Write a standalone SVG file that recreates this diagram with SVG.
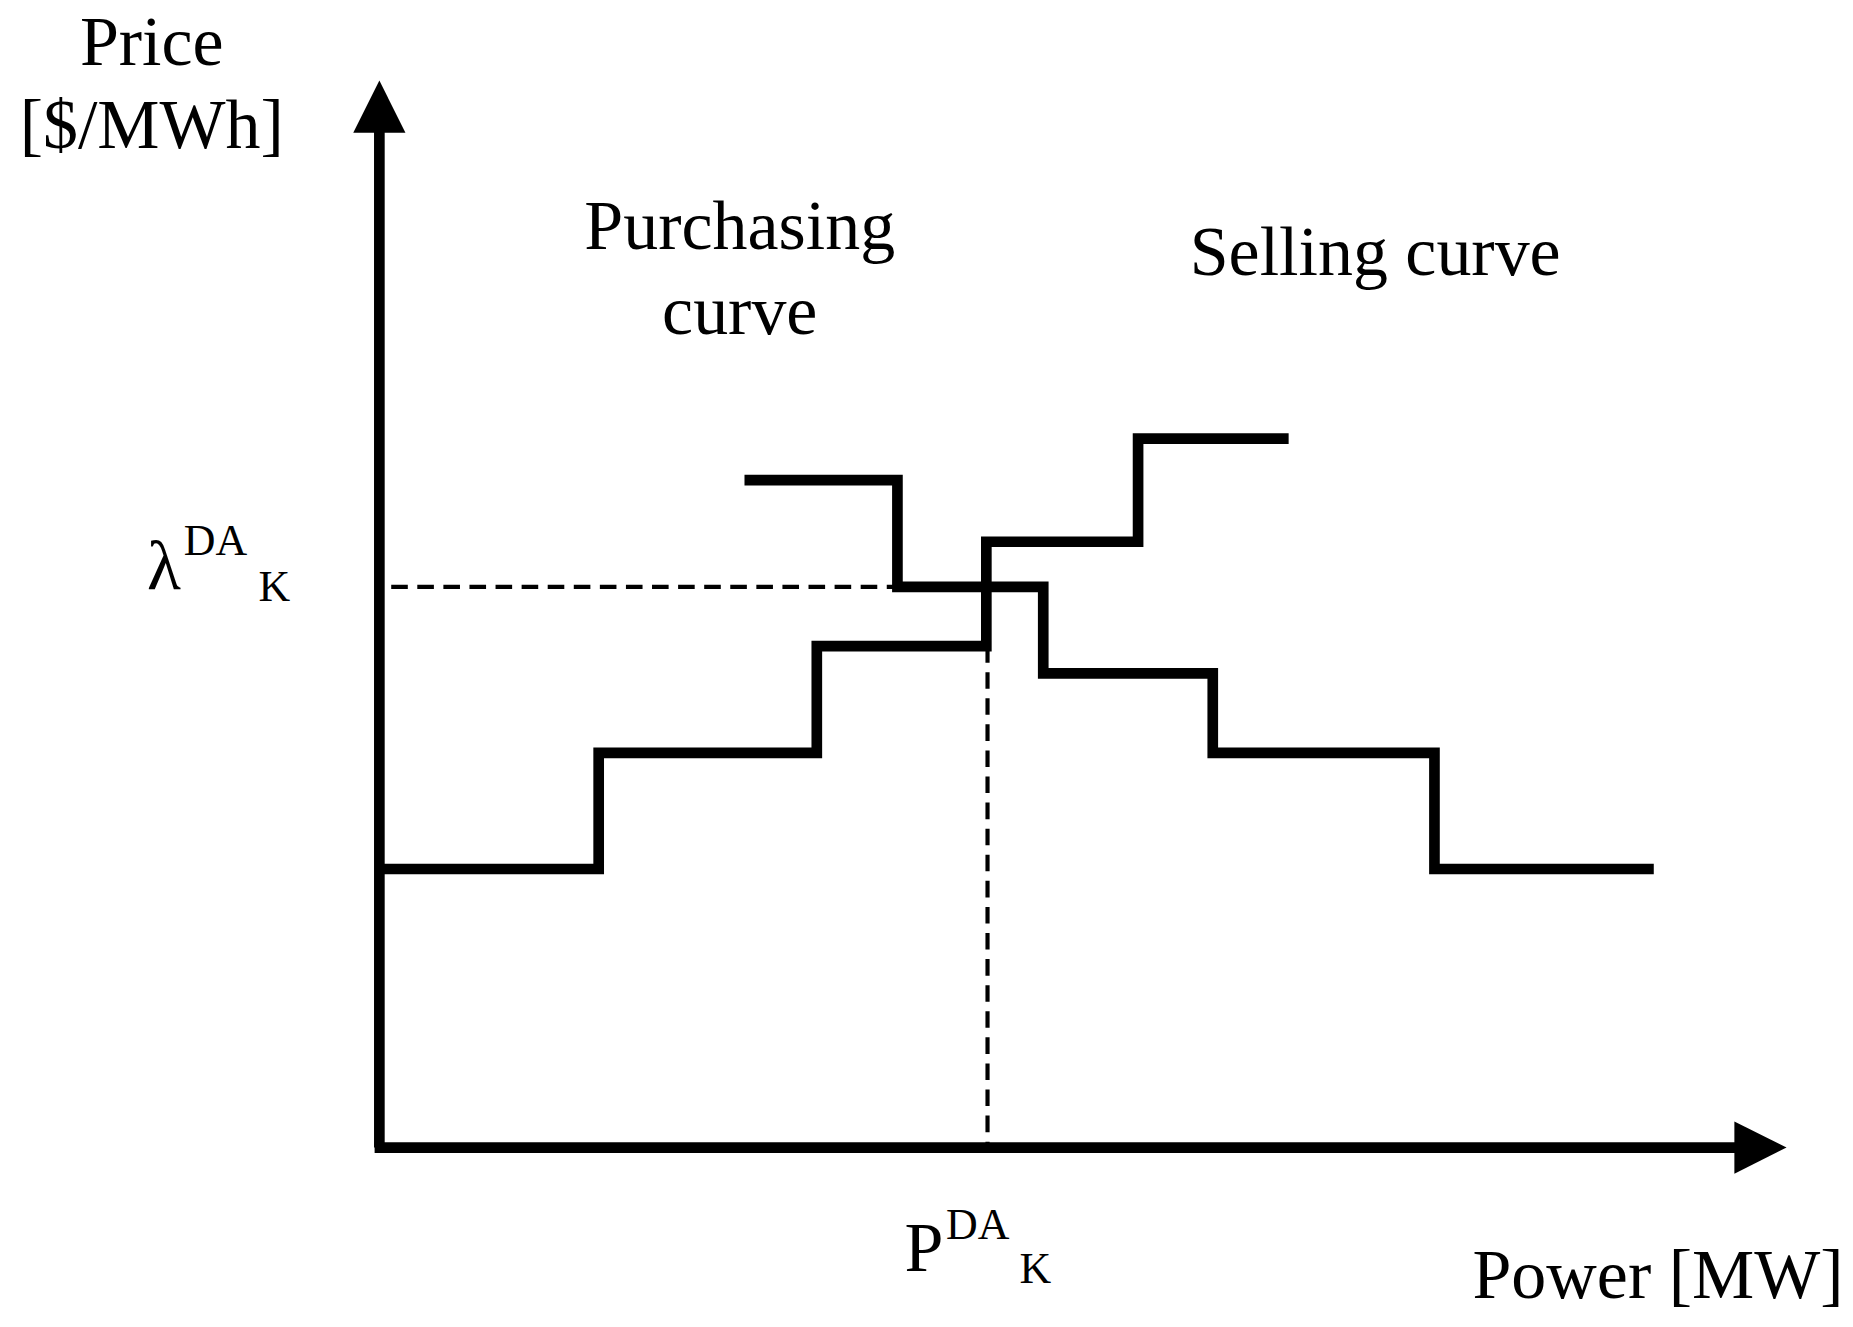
<svg xmlns="http://www.w3.org/2000/svg" width="1853" height="1327" viewBox="0 0 1853 1327">
<style>
.t{font-family:"Liberation Serif",serif;fill:#000}
.big{font-size:59px}
.sm{font-size:37px}
.c{fill:none;stroke:#000;stroke-width:9;stroke-linejoin:miter}
.d{fill:none;stroke:#000;stroke-width:3.5;stroke-dasharray:14,8}
</style>
<rect width="1853" height="1327" fill="#fff"/>
<g transform="scale(1.1855)">
<g id="connectors">
<path class="c" d="M320,968 V105"/>
<polygon points="320,68 298,112 342,112" fill="#000"/>
<path class="c" d="M316,968 H1470"/>
<polygon points="1507,968 1463,946 1463,990" fill="#000"/>
<path class="d" d="M330,495 H757"/>
<path class="d" d="M833,545 V968"/>
</g>
<g id="selling"><path class="c" d="M320,733 H505 V635 H689 V545 H832 V457 H960 V370 H1087"/></g>
<g id="purchasing"><path class="c" d="M628,405 H757 V495 H880 V568 H1023 V635 H1210 V733 H1395"/></g>
<g id="labels">
<text class="t big" x="128" y="55" text-anchor="middle">Price</text>
<text class="t big" x="128" y="125" text-anchor="middle">[$/MWh]</text>
<text class="t big" x="624" y="210" text-anchor="middle">Purchasing</text>
<text class="t big" x="624" y="282" text-anchor="middle">curve</text>
<text class="t big" x="1160" y="232" text-anchor="middle">Selling curve</text>
<text class="t big" x="124" y="497">λ</text>
<text class="t sm" x="155" y="468">DA</text>
<text class="t sm" x="218" y="507">K</text>
<text class="t big" x="763" y="1072">P</text>
<text class="t sm" x="798" y="1045">DA</text>
<text class="t sm" x="860" y="1082">K</text>
<text class="t big" x="1555" y="1095" text-anchor="end">Power [MW]</text>
</g>
</g>
</svg>
